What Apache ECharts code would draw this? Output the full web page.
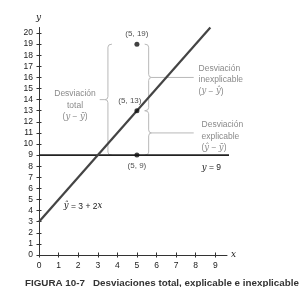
<!DOCTYPE html>
<html>
<head>
<meta charset="utf-8">
<script src="https://cdn.jsdelivr.net/npm/echarts@6/dist/echarts.min.js"></script>
<style>
  html, body { margin: 0; padding: 0; background: #fff; }
  #chart { width: 302px; height: 287px; }
</style>
</head>
<body>
<div id="chart"></div>
<script>
  // data
  var xTicks = [0, 1, 2, 3, 4, 5, 6, 7, 8, 9];
  var yTicks = [0, 1, 2, 3, 4, 5, 6, 7, 8, 9, 10, 11, 12, 13, 14, 15, 16, 17, 18, 19, 20];
  var fitLine = [[0, 3], [8.75, 20.5]];          // y-hat = 3 + 2x
  var meanLine = [[0, 9], [10.3, 9]];            // y = 9
  var points = [[5, 19], [5, 13], [5, 9]];
  var pointLabels = ["(5, 19)", "(5, 13)", "(5, 9)"];
  // braces: [x, yFrom, yTo, direction of tip, leader end x]
  var braces = [[3.52, 19, 9, -1, 3.1], [5.6, 19, 13, 1, 7.9], [5.6, 13, 9, 1, 7.9]];

  var GREY = "#b8b8b8", TXT = "#8a8a8a", INK = "#222";
  var font = "Liberation Sans, Arial, sans-serif";
  var serif = "DejaVu Serif, serif";

  function braceItem(params, api) {
    var x = api.value(0), dir = api.value(3);
    var a = api.coord([x, api.value(1)]);
    var b = api.coord([x, api.value(2)]);
    var lead = api.coord([api.value(4), 0])[0];
    var px = a[0], top = a[1], bot = b[1], mid = (top + bot) / 2;
    var w = 4 * -dir, r = 3, t = 3 * dir;
    var d = "M" + (px + w) + " " + top +
      " Q" + px + " " + top + " " + px + " " + (top + r) +
      " L" + px + " " + (mid - r) +
      " Q" + px + " " + mid + " " + (px + t) + " " + mid +
      " Q" + px + " " + mid + " " + px + " " + (mid + r) +
      " L" + px + " " + (bot - r) +
      " Q" + px + " " + bot + " " + (px + w) + " " + bot +
      " M" + (px + t) + " " + mid + " L" + lead + " " + mid;
    return {
      type: "path",
      shape: { pathData: d },
      style: { fill: null, stroke: GREY, lineWidth: 1 }
    };
  }

  function note(x, y, text, align, color, size) {
    color = color || TXT;
    size = size || 8.5;
    return {
      coord: [x, y], value: text,
      label: {
        show: true, formatter: text, align: align, verticalAlign: "middle",
        color: color, fontSize: size, lineHeight: 11.5, fontFamily: font,
        rich: { i: { fontStyle: "italic", color: color, fontSize: size, fontFamily: serif } }
      }
    };
  }

  function axisBase(ticks, inside) {
    return {
      type: "value", interval: 1,
      axisLine: { show: !inside, lineStyle: { color: "#333", width: 1 } },
      axisTick: { show: true, inside: inside, customValues: ticks, length: 2.5, lineStyle: { color: "#333" } },
      axisLabel: { show: !inside, customValues: ticks, color: INK, fontSize: 8.5, margin: 6, fontFamily: font },
      splitLine: { show: false }
    };
  }

  var x0 = axisBase(xTicks, false), x1 = axisBase(xTicks, true);
  var y0 = axisBase(yTicks, false), y1 = axisBase(yTicks, true);
  [x0, x1].forEach(function (a) { a.min = 0; a.max = 9.6; a.position = "bottom"; });
  [y0, y1].forEach(function (a) { a.min = 0; a.max = 20.5; a.position = "left"; });
  x0.name = "x"; x0.nameGap = 4;
  x0.nameTextStyle = { fontStyle: "italic", color: INK, fontSize: 9, fontFamily: serif };
  y0.name = "y"; y0.nameGap = 5;
  y0.nameTextStyle = { fontStyle: "italic", color: INK, fontSize: 9, fontFamily: serif, align: "right", padding: [0, -2, 0, 0] };

  var chart = echarts.init(document.getElementById("chart"), null, { renderer: "canvas" });
  chart.setOption({
    animation: false,
    title: {
      text: "FIGURA 10-7   Desviaciones total, explicable e inexplicable",
      left: 25, top: 278, padding: 0,
      textStyle: { fontSize: 9.8, fontWeight: "bold", color: "#333", fontFamily: font }
    },
    grid: { left: 39, right: 75, top: 27.5, bottom: 32 },
    xAxis: [x0, x1],
    yAxis: [y0, y1],
    series: [
      {
        type: "custom", renderItem: braceItem, data: braces, silent: true, clip: false, z: 1
      },
      {
        type: "line", data: meanLine, symbol: "none", clip: false, silent: true,
        lineStyle: { color: INK, width: 1.6 }, z: 2,
        markPoint: {
          symbol: "circle", symbolSize: 0,
          data: [
            note(8.8, 7.9, "{i|y} = 9", "center", INK, 8.5),
            note(2.25, 4.4, "{i|ŷ} = 3 + 2{i|x}", "center", INK, 8.5),
            note(1.84, 13.5, "Desviación\ntotal\n({i|y} − {i|y\u0304})", "center"),
            note(8.15, 15.8, "Desviación\ninexplicable\n({i|y} − {i|ŷ})", "left"),
            note(8.3, 10.7, "Desviación\nexplicable\n({i|ŷ} − {i|y\u0304})", "left")
          ]
        }
      },
      {
        type: "line", data: fitLine, symbol: "none", clip: false, silent: true,
        lineStyle: { color: "#444", width: 2.2 }, z: 3
      },
      {
        type: "scatter", symbolSize: 5, silent: true, z: 4,
        itemStyle: { color: "#111" },
        data: points.map(function (p, i) {
          var pos = i === 2 ? "bottom" : "top";
          return {
            value: p,
            label: {
              show: true, formatter: pointLabels[i], position: pos,
              offset: i === 1 ? [-7, 1] : [0, 0], distance: 4,
              color: INK, fontSize: 8, fontFamily: font
            }
          };
        })
      }
    ]
  });
</script>
</body>
</html>
